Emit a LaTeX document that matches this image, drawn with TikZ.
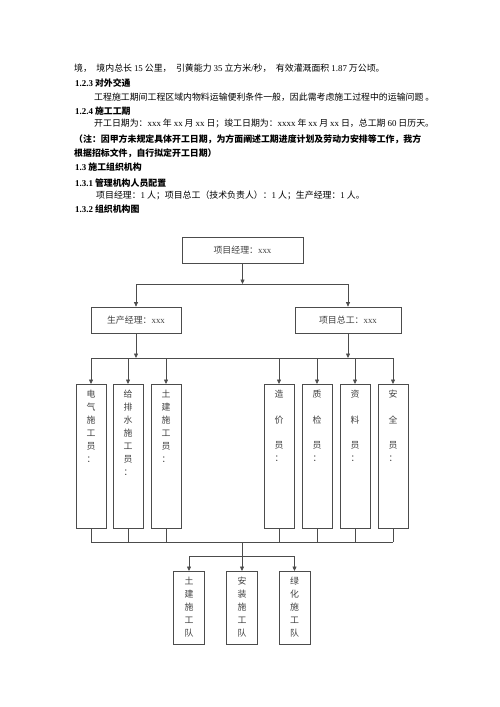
\documentclass[tikz,border=0pt]{standalone}
\usepackage{fontspec}
\setmainfont{Liberation Serif}
\newfontfamily\zh{Noto Sans CJK SC}
\usetikzlibrary{positioning,arrows.meta,calc}

\newcommand{\la}[1]{{\rmfamily #1}}
\newcommand{\stack}[2]{\parbox[t][#1][t]{26pt}{\centering\vspace*{6pt}#2}}

\tikzset{
  txt/.style={anchor=base west, inner sep=0pt, text=black},
  box/.style={draw=black!70, line width=0.7pt, inner sep=0pt, text=black!75},
  colbox/.style={box, anchor=north, minimum width=30pt},
  conn/.style={draw=black!70, line width=0.7pt},
  arr/.style={conn, -{Triangle[length=4.5pt,width=4pt]}},
}

\begin{document}
\begin{tikzpicture}[x=1pt,y=-1pt,
  every node/.style={font=\zh\fontsize{8.9}{13}\selectfont}]
\useasboundingbox (0,0) rectangle (500,707);

\node[txt] (t1) at (74,71.4) {境，\enspace 境内总长 \la{15} 公里，\enspace 引黄能力 \la{35} 立方米\la{/}秒，\enspace 有效灌溉面积 \la{1.87} 万公顷。};
\node[txt] (t2) at (75,86.4) {\bfseries\la{1.2.3} 对外交通};
\node[txt] (t3) at (94,100.4) {工程施工期间工程区域内物料运输便利条件一般，因此需考虑施工过程中的运输问题 。};
\node[txt] (t4) at (75,114.4) {\bfseries\la{1.2.4} 施工工期};
\node[txt] (t5) at (94,126.4) {开工日期为：\la{xxx} 年 \la{xx} 月 \la{xx} 日；竣工日期为：\la{xxxx} 年 \la{xx} 月 \la{xx} 日，总工期 \la{60} 日历天。};
\node[txt] (t6) at (74,142.4) {\bfseries（注：因甲方未规定具体开工日期，为方面阐述工期进度计划及劳动力安排等工作，我方};
\node[txt] (t7) at (74,156.4) {\bfseries 根据招标文件，自行拟定开工日期）};
\node[txt] (t8) at (75,170.4) {\bfseries\la{1.3} 施工组织机构};
\node[txt] (t9) at (75,186.4) {\bfseries\la{1.3.1} 管理机构人员配置};
\node[txt] (t10) at (96,198.4) {项目经理：\la{1} 人；项目总工（技术负责人）：\la{1} 人；生产经理：\la{1} 人。};
\node[txt] (t11) at (75,212.4) {\bfseries\la{1.3.2} 组织机构图};

\node[box, minimum width=121pt, minimum height=26pt] (pm) at (242.5,250) {项目经理：\la{xxx}};
\node[box, minimum width=90pt, minimum height=26pt] (sc) at (136,320) {生产经理：\la{xxx}};
\node[box, minimum width=106pt, minimum height=26pt] (zg) at (348,320) {项目总工：\la{xxx}};

\node[colbox] (c1) at (91,384) {\stack{144pt}{电\\气\\施\\工\\员\\：}};
\node[colbox] (c2) at (128,384) {\stack{144pt}{给\\排\\水\\施\\工\\员\\：}};
\node[colbox] (c3) at (166,384) {\stack{144pt}{土\\建\\施\\工\\员\\：}};
\node[colbox] (c4) at (279,384) {\stack{144pt}{造\\[12.5pt]价\\[12.5pt]员\\：}};
\node[colbox] (c5) at (317,384) {\stack{144pt}{质\\[12.5pt]检\\[12.5pt]员\\：}};
\node[colbox] (c6) at (355,384) {\stack{144pt}{资\\[12.5pt]料\\[12.5pt]员\\：}};
\node[colbox] (c7) at (393,384) {\stack{144pt}{安\\[12.5pt]全\\[12.5pt]员\\：}};

\node[colbox, minimum width=31pt] (d1) at (189,571) {\stack{73pt}{土\\建\\施\\工\\队}};
\node[colbox, minimum width=31pt] (d2) at (242,571) {\stack{73pt}{安\\装\\施\\工\\队}};
\node[colbox, minimum width=31pt] (d3) at (294.5,571) {\stack{73pt}{绿\\化\\施\\工\\队}};

\coordinate (ka) at (0,284);
\coordinate (kb) at (0,358);
\coordinate (kc) at (0,542);
\coordinate (kd) at (0,556);

\draw[arr] (pm) -- (pm |- ka);
\draw[conn] (sc |- ka) -- (zg |- ka);
\draw[arr] (sc |- ka) -- (sc);
\draw[arr] (zg |- ka) -- (zg);

\draw[arr] (sc) -- (sc |- kb);
\draw[arr] (zg) -- (zg |- kb);
\draw[conn] (c1 |- kb) -- (c7 |- kb);
\foreach \i in {1,...,7}
  \draw[arr] (c\i |- kb) -- (c\i);

\foreach \i in {1,...,7}
  \draw[conn] (c\i) -- (c\i |- kc);
\draw[conn] (c1 |- kc) -- (c7 |- kc);
\draw[conn] (d2 |- kc) -- (d2 |- kd);
\draw[conn] (d1 |- kd) -- (d3 |- kd);
\foreach \i in {1,2,3}
  \draw[arr] (d\i |- kd) -- (d\i);
\end{tikzpicture}
\end{document}
